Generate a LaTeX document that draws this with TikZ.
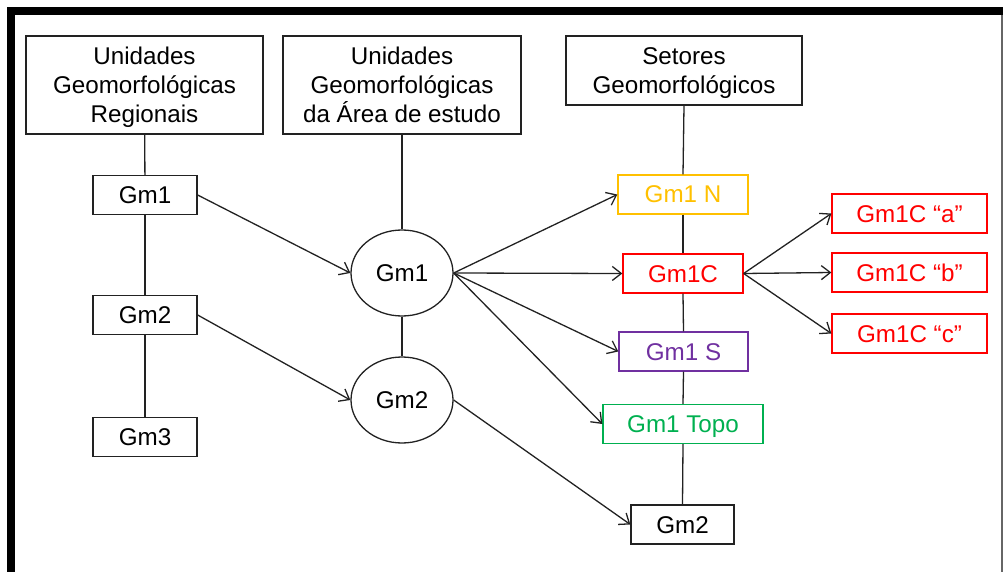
\documentclass[tikz,border=0pt]{standalone}
\usepackage{fontspec}
\setmainfont{Liberation Sans}
\usetikzlibrary{shapes,arrows.meta,positioning}
\definecolor{gmyellow}{HTML}{FFC000}
\definecolor{gmred}{HTML}{FF0000}
\definecolor{gmpurple}{HTML}{7030A0}
\definecolor{gmgreen}{HTML}{00B050}
\definecolor{linegray}{HTML}{222222}
\tikzstyle{txt}=[font=\fontsize{24.2}{29}\selectfont]
\tikzstyle{head}=[txt, shape=rectangle, draw=linegray, line width=1.3pt, align=center, text depth=0pt, inner sep=0pt]
\tikzstyle{unit}=[txt, shape=rectangle, draw=linegray, line width=1.3pt, minimum height=39pt, text height=17pt, text depth=0pt, inner sep=0pt]
\tikzstyle{oval}=[txt, shape=ellipse, draw=linegray, line width=1.3pt, minimum width=102pt, minimum height=86pt, text height=17pt, text depth=0pt, inner sep=0pt]
\tikzstyle{arr}=[-{Straight Barb[length=9pt,width=14pt]}, line width=1.3pt, linegray]
\tikzstyle{lin}=[line width=1.3pt, linegray]

\begin{document}
\begin{tikzpicture}[x=1pt,y=-1pt]
\useasboundingbox (0,0) rectangle (1003,572);
% moldura
\draw[line width=8pt] (11,572) -- (11,11) -- (1003,11);
\draw[line width=1.8pt, gray!80!black] (1002,15) -- (1002,572);

\node (reg) [head, minimum width=237pt, minimum height=98pt] at (144.5,85) {Unidades\\Geomorfológicas\\Regionais};
\node (area) [head, minimum width=238pt, minimum height=98pt] at (402,85) {Unidades\\Geomorfológicas\\da Área de estudo};
\node (set) [head, minimum width=236pt, minimum height=69pt] at (684,70.5) {Setores\\Geomorfológicos};

\node (rg1) [unit, minimum width=104pt] at (145,195) {Gm1};
\node (rg2) [unit, minimum width=104pt] at (145,315) {Gm2};
\node (rg3) [unit, minimum width=104pt] at (145,437) {Gm3};

\node (ag1) [oval] at (402,273) {Gm1};
\node (ag2) [oval] at (402,400) {Gm2};

\node (sn) [unit, draw=gmyellow, text=gmyellow, minimum width=130pt] at (683,194.5) {Gm1 N};
\node (sc) [unit, draw=gmred, text=gmred, minimum width=120pt] at (683,273.5) {Gm1C};
\node (ss) [unit, draw=gmpurple, text=gmpurple, minimum width=129pt] at (683.5,351.5) {Gm1 S};
\node (st) [unit, draw=gmgreen, text=gmgreen, minimum width=160pt] at (683,424) {Gm1 Topo};
\node (sg2) [unit, minimum width=103pt] at (682.5,524.5) {Gm2};

\node (ca) [unit, draw=gmred, text=gmred, minimum width=155pt] at (909.5,213.5) {Gm1C “a”};
\node (cb) [unit, draw=gmred, text=gmred, minimum width=155pt] at (909.5,272.5) {Gm1C “b”};
\node (cc) [unit, draw=gmred, text=gmred, minimum width=155pt] at (909.5,333.5) {Gm1C “c”};

% linhas verticais
\draw[lin] (reg) -- (rg1);
\draw[lin] (rg1) -- (rg2);
\draw[lin] (rg2) -- (rg3);
\draw[lin] (area) -- (ag1);
\draw[lin] (ag1) -- (ag2);
\draw[lin] (set.south) -- (sn.north);
\draw[lin] (sn.south) -- (sc.north);
\draw[lin] (sc.south) -- (ss.north);
\draw[lin] (ss.south) -- (st.north);
\draw[lin] (st.south) -- (sg2.north);

% setas
\draw[arr] (rg1.east) -- (ag1.west);
\draw[arr] (rg2.east) -- (ag2.west);
\draw[arr] (ag1.east) -- (sn.west);
\draw[arr] (ag1.east) -- (sc.west);
\draw[arr] (ag1.east) -- (ss.west);
\draw[arr] (ag1.east) -- (st.west);
\draw[arr] (ag2.east) -- (sg2.west);
\draw[arr] (sc.east) -- (ca.west);
\draw[arr] (sc.east) -- (cb.west);
\draw[arr] (sc.east) -- (cc.west);

\end{tikzpicture}
\end{document}
